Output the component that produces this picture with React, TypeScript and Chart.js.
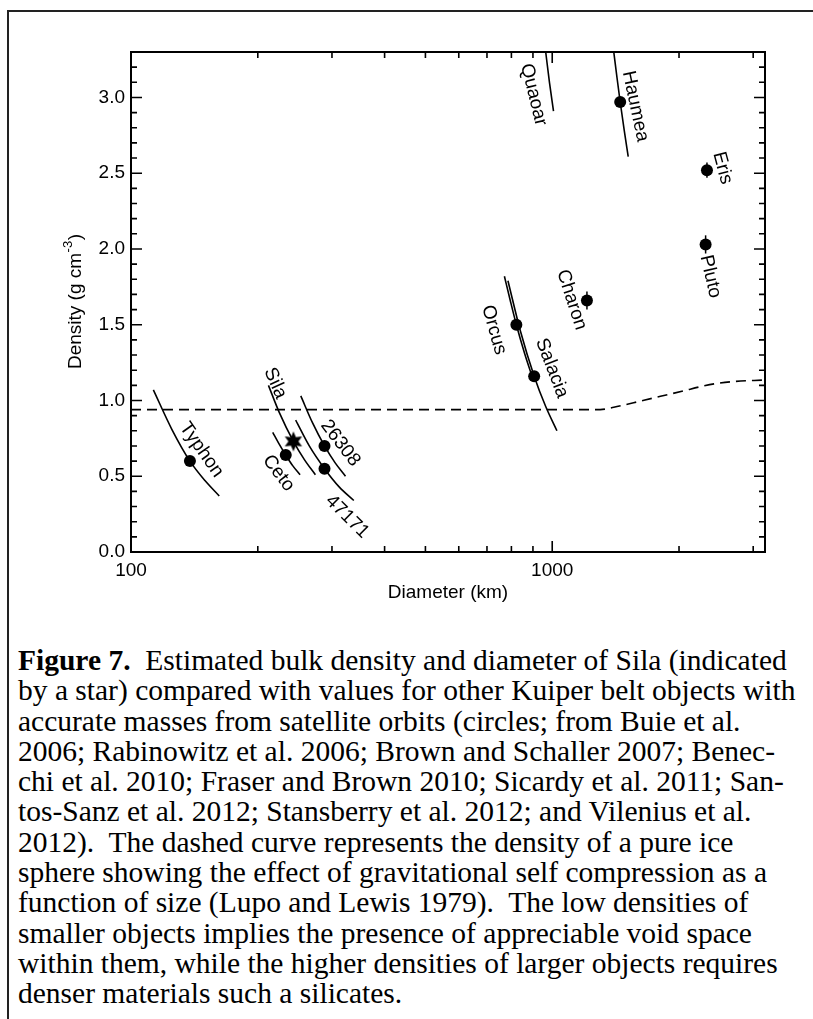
import React, { useEffect, useRef } from "react";
import { Chart, registerables } from "chart.js";

Chart.register(...registerables);

const SANS = '"Liberation Sans", Arial, Helvetica, sans-serif';
const SERIF = '"Liberation Serif", "Times New Roman", Times, serif';

// Kuiper belt objects with masses from satellite orbits
const objectNames = ["Typhon", "Ceto", "26308", "47171", "Orcus", "Salacia", "Charon", "Haumea", "Eris", "Pluto"];
const objectDiameters = [138, 233, 288, 288, 822, 906, 1209, 1450, 2330, 2313];
const objectDensities = [0.60, 0.64, 0.70, 0.55, 1.50, 1.16, 1.66, 2.97, 2.52, 2.03];

// Sila (star)
const silaDiameter = 243;
const silaDensity = 0.73;

// Vertical error bars
const errDiameters = [1209, 2330, 2313];
const errLow = [1.60, 2.47, 1.97];
const errHigh = [1.72, 2.57, 2.09];

// Constant-mass tracks: diameter (km) and density (g cm^-3)
const typhonTrackD = [113, 125, 138, 150, 162];
const typhonTrackRho = [1.07, 0.81, 0.60, 0.47, 0.37];
const silaTrackD = [212, 225, 243, 258, 274];
const silaTrackRho = [1.10, 0.92, 0.73, 0.61, 0.51];
const cetoTrackD = [217, 225, 233, 242, 252];
const cetoTrackRho = [0.79, 0.71, 0.64, 0.57, 0.51];
const track26308D = [253, 270, 288, 305, 323];
const track26308Rho = [1.03, 0.85, 0.70, 0.59, 0.50];
const track47171D = [246, 265, 288, 312, 338];
const track47171Rho = [0.87, 0.70, 0.55, 0.43, 0.34];
const orcusTrackD = [770, 795, 822, 860, 893];
const orcusTrackRho = [1.82, 1.66, 1.50, 1.31, 1.17];
const salaciaTrackD = [785, 840, 906, 965, 1026];
const salaciaTrackRho = [1.79, 1.46, 1.16, 0.96, 0.80];
const quaoarTrackD = [965, 985, 1007];
const quaoarTrackRho = [3.30, 3.10, 2.91];
const haumeaTrackD = [1400, 1425, 1450, 1483, 1515];
const haumeaTrackRho = [3.30, 3.13, 2.97, 2.78, 2.61];

// Pure ice sphere with self compression (dashed)
const iceD = [100, 1300, 1400, 1560, 1730, 1890, 2060, 2240, 2430, 2690, 3200];
const iceRho = [0.94, 0.94, 0.955, 0.985, 1.015, 1.04, 1.065, 1.09, 1.11, 1.125, 1.135];

// Axis ticks
const xMajorTicks = [100, 1000];
const xMinorTicks = [200, 300, 400, 500, 600, 700, 800, 900, 2000, 3000];
const yMajorTicks = [0.0, 0.5, 1.0, 1.5, 2.0, 2.5, 3.0];
const yMinorTicks = [0.1, 0.2, 0.3, 0.4, 0.6, 0.7, 0.8, 0.9, 1.1, 1.2, 1.3, 1.4, 1.6, 1.7, 1.8, 1.9,
  2.1, 2.2, 2.3, 2.4, 2.6, 2.7, 2.8, 2.9, 3.1, 3.2];

// Name labels placed along the tracks (data coordinates, rotation in degrees)
const labelTexts = ["Typhon", "Sila", "Ceto", "26308", "47171", "Orcus", "Salacia", "Charon", "Quaoar", "Haumea", "Eris", "Pluto"];
const labelD = [147, 220, 224, 314, 326, 727, 998, 1112, 903, 1575, 2536, 2375];
const labelRho = [0.674, 1.114, 0.52, 0.718, 0.233, 1.466, 1.213, 1.664, 3.018, 2.941, 2.534, 1.818];
const labelAngle = [55, 66, 53, 53, 45, 74, 69, 72, 76, 78, 75, 77];

const captionLines = [
  "Estimated bulk density and diameter of Sila (indicated",
  "by a star) compared with values for other Kuiper belt objects with",
  "accurate masses from satellite orbits (circles; from Buie et al.",
  "2006; Rabinowitz et al. 2006; Brown and Schaller 2007; Benec-",
  "chi et al. 2010; Fraser and Brown 2010; Sicardy et al. 2011; San-",
  "tos-Sanz et al. 2012; Stansberry et al. 2012; and Vilenius et al.",
  "2012).  The dashed curve represents the density of a pure ice",
  "sphere showing the effect of gravitational self compression as a",
  "function of size (Lupo and Lewis 1979).  The low densities of",
  "smaller objects implies the presence of appreciable void space",
  "within them, while the higher densities of larger objects requires",
  "denser materials such a silicates.",
];

const CANVAS_W = 813;
const CANVAS_H = 620;

function makeStar(): HTMLCanvasElement {
  const c = document.createElement("canvas");
  c.width = 22;
  c.height = 22;
  const g = c.getContext("2d")!;
  g.fillStyle = "#000";
  g.beginPath();
  const n = 6;
  for (let i = 0; i < n * 2; i++) {
    const r = i % 2 === 0 ? 10 : 5;
    const a = -Math.PI / 2 + (i * Math.PI) / n;
    const px = 11 + r * Math.cos(a);
    const py = 11 + r * Math.sin(a);
    if (i === 0) g.moveTo(px, py);
    else g.lineTo(px, py);
  }
  g.closePath();
  g.fill();
  return c;
}

const pairs = (xs: number[], ys: number[]) => xs.map((x, i) => ({ x, y: ys[i] }));

const track = (label: string, xs: number[], ys: number[]) => ({
  label,
  data: pairs(xs, ys),
  showLine: true,
  borderColor: "#000",
  borderWidth: 1.6,
  pointRadius: 0,
  fill: false,
  cubicInterpolationMode: "monotone" as const,
  order: 2,
});

const axesPlugin = {
  id: "axesFrame",
  afterDatasetsDraw(chart: any) {
    const { ctx, chartArea: a, scales } = chart;
    const xs = scales.x;
    const ys = scales.y;
    ctx.save();
    ctx.strokeStyle = "#000";
    ctx.lineCap = "butt";

    // ticks on all four sides, pointing inward
    ctx.lineWidth = 1.6;
    const major = 11;
    const minor = 6;
    const vTick = (v: number, len: number) => {
      const px = xs.getPixelForValue(v);
      ctx.beginPath();
      ctx.moveTo(px, a.bottom);
      ctx.lineTo(px, a.bottom - len);
      ctx.moveTo(px, a.top);
      ctx.lineTo(px, a.top + len);
      ctx.stroke();
    };
    const hTick = (v: number, len: number) => {
      const py = ys.getPixelForValue(v);
      ctx.beginPath();
      ctx.moveTo(a.left, py);
      ctx.lineTo(a.left + len, py);
      ctx.moveTo(a.right, py);
      ctx.lineTo(a.right - len, py);
      ctx.stroke();
    };
    xMajorTicks.forEach((v) => vTick(v, major));
    xMinorTicks.forEach((v) => vTick(v, minor));
    yMajorTicks.forEach((v) => hTick(v, major));
    yMinorTicks.forEach((v) => hTick(v, minor));

    ctx.lineWidth = 2;
    ctx.strokeRect(a.left, a.top, a.right - a.left, a.bottom - a.top);

    // object labels
    ctx.fillStyle = "#000";
    ctx.font = `19px ${SANS}`;
    ctx.textAlign = "center";
    ctx.textBaseline = "middle";
    labelTexts.forEach((t, i) => {
      const px = xs.getPixelForValue(labelD[i]);
      const py = ys.getPixelForValue(labelRho[i]);
      ctx.save();
      ctx.translate(px, py);
      ctx.rotate((labelAngle[i] * Math.PI) / 180);
      ctx.fillText(t, 0, 0);
      ctx.restore();
    });

    // x-axis title
    ctx.font = `19px ${SANS}`;
    ctx.fillText("Diameter (km)", (a.left + a.right) / 2, a.bottom + 41);

    // y-axis title with superscript exponent
    ctx.save();
    ctx.translate(76, (a.top + a.bottom) / 2);
    ctx.rotate(-Math.PI / 2);
    ctx.textAlign = "left";
    const main = "Density (g cm";
    const sup = "-3";
    const close = ")";
    ctx.font = `19px ${SANS}`;
    const wMain = ctx.measureText(main).width;
    const wClose = ctx.measureText(close).width;
    ctx.font = `13px ${SANS}`;
    const wSup = ctx.measureText(sup).width;
    let x0 = -(wMain + wSup + wClose) / 2;
    ctx.font = `19px ${SANS}`;
    ctx.fillText(main, x0, 0);
    ctx.font = `13px ${SANS}`;
    ctx.fillText(sup, x0 + wMain + 0.5, -8);
    ctx.font = `19px ${SANS}`;
    ctx.fillText(close, x0 + wMain + wSup + 1, 0);
    ctx.restore();

    ctx.restore();
  },
};

function DensityChart() {
  const ref = useRef<HTMLCanvasElement | null>(null);

  useEffect(() => {
    if (!ref.current) return;
    const star = makeStar();

    const errorBars = errDiameters.map((d, i) => ({
      label: "err" + i,
      data: [
        { x: d, y: errLow[i] },
        { x: d, y: errHigh[i] },
      ],
      showLine: true,
      borderColor: "#000",
      borderWidth: 1.5,
      pointRadius: 0,
      order: 1,
    }));

    const chart = new Chart(ref.current, {
      type: "scatter",
      data: {
        datasets: [
          {
            label: "Sila",
            data: [{ x: silaDiameter, y: silaDensity }],
            pointStyle: star as any,
            pointRadius: 10,
            order: 0,
          },
          {
            label: "objects",
            data: pairs(objectDiameters, objectDensities),
            pointStyle: "circle",
            pointRadius: 6,
            pointBackgroundColor: "#000",
            pointBorderColor: "#000",
            pointBorderWidth: 0,
            order: 0,
          },
          ...errorBars,
          track("Typhon track", typhonTrackD, typhonTrackRho),
          track("Sila track", silaTrackD, silaTrackRho),
          track("Ceto track", cetoTrackD, cetoTrackRho),
          track("26308 track", track26308D, track26308Rho),
          track("47171 track", track47171D, track47171Rho),
          track("Orcus track", orcusTrackD, orcusTrackRho),
          track("Salacia track", salaciaTrackD, salaciaTrackRho),
          track("Quaoar track", quaoarTrackD, quaoarTrackRho),
          track("Haumea track", haumeaTrackD, haumeaTrackRho),
          {
            label: "ice sphere",
            data: pairs(iceD, iceRho),
            showLine: true,
            borderColor: "#000",
            borderWidth: 1.6,
            borderDash: [10, 6],
            pointRadius: 0,
            cubicInterpolationMode: "monotone",
            order: 3,
          },
        ] as any,
      },
      options: {
        responsive: false,
        animation: false,
        devicePixelRatio: 1,
        events: [],
        layout: { padding: { top: 52, right: 48, left: 0, bottom: 0 } },
        plugins: {
          legend: { display: false },
          tooltip: { enabled: false },
        },
        scales: {
          x: {
            type: "logarithmic",
            min: 100,
            max: 3200,
            grid: { display: false, drawTicks: false },
            border: { display: false },
            afterBuildTicks: (axis: any) => {
              axis.ticks = xMajorTicks.map((v) => ({ value: v }));
            },
            afterFit: (axis: any) => {
              axis.height = CANVAS_H - 552;
            },
            ticks: {
              autoSkip: false,
              maxRotation: 0,
              padding: 7,
              color: "#000",
              font: { family: SANS, size: 19 },
              callback: (v: any) => String(v),
            },
          },
          y: {
            type: "linear",
            min: 0,
            max: 3.3,
            grid: { display: false, drawTicks: false },
            border: { display: false },
            afterBuildTicks: (axis: any) => {
              axis.ticks = yMajorTicks.map((v) => ({ value: v }));
            },
            afterFit: (axis: any) => {
              axis.width = 131;
            },
            ticks: {
              padding: 6,
              color: "#000",
              font: { family: SANS, size: 19 },
              callback: (v: any) => Number(v).toFixed(1),
            },
          },
        },
      } as any,
      plugins: [axesPlugin],
    });

    return () => chart.destroy();
  }, []);

  return (
    <canvas
      ref={ref}
      width={CANVAS_W}
      height={CANVAS_H}
      style={{ position: "absolute", left: 0, top: 0, width: CANVAS_W, height: CANVAS_H }}
    />
  );
}

export default function App() {
  return (
    <div
      style={{
        position: "fixed",
        left: 0,
        top: 0,
        width: 813,
        height: 1019,
        overflow: "hidden",
        background: "#fff",
      }}
    >
      <DensityChart />
      <div style={{ position: "absolute", left: 7, top: 10, width: 806, height: 1.5, background: "#222" }} />
      <div style={{ position: "absolute", left: 7, top: 10, width: 1.5, height: 1009, background: "#222" }} />
      <div
        style={{
          position: "absolute",
          left: 18,
          top: 645,
          fontFamily: SERIF,
          fontSize: 29.5,
          lineHeight: "30.3px",
          color: "#000",
          whiteSpace: "pre",
        }}
      >
        {captionLines.map((line, i) => (
          <div key={i}>
            {i === 0 ? <b>Figure 7.</b> : null}
            {i === 0 ? "  " + line : line}
          </div>
        ))}
      </div>
    </div>
  );
}
